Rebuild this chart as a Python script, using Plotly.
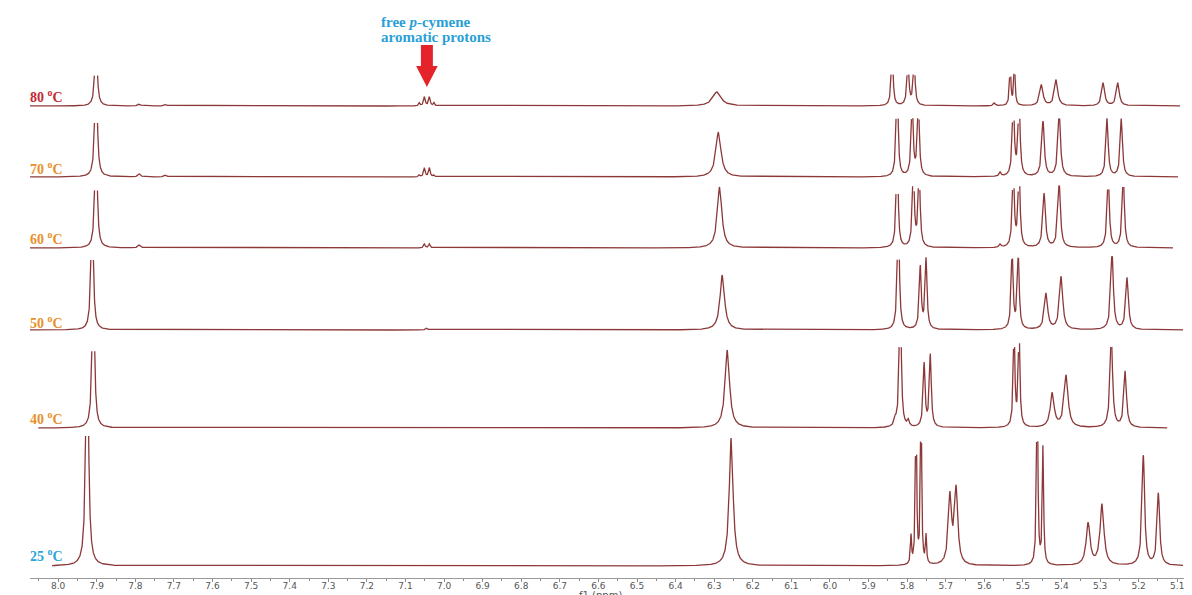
import numpy as np
import plotly.graph_objects as go

# ---------------- data ----------------
temperatures = ["80", "70", "60", "50", "40", "25"]

# peak centres (ppm), heights (a.u.), half-widths (ppm) per spectrum
peaks_80_ppm = [7.902, 7.790, 7.722, 7.064, 7.051, 7.038, 7.026, 6.293, 5.839, 5.798, 5.782, 5.574, 5.533, 5.522, 5.452, 5.414, 5.292, 5.254]
peaks_80_height = [90, 2, 1.5, 3, 9, 9, 3, 14, 70, 45, 45, 3, 45, 45, 21, 26, 23, 23]
peaks_80_width = [0.003, 0.004, 0.004, 0.002, 0.0025, 0.0025, 0.002, 0.013, 0.0025, 0.003, 0.003, 0.003, 0.002, 0.002, 0.005, 0.005, 0.0045, 0.0045]

peaks_70_ppm = [7.902, 7.790, 7.722, 7.064, 7.051, 7.038, 7.026, 6.289, 5.826, 5.787, 5.771, 5.559, 5.525, 5.510, 5.448, 5.406, 5.282, 5.245]
peaks_70_height = [150, 3, 2, 2, 9, 9, 2, 45, 130, 75, 75, 4, 80, 80, 55, 63, 58, 58]
peaks_70_width = [0.003, 0.004, 0.004, 0.002, 0.0025, 0.0025, 0.002, 0.008, 0.0025, 0.003, 0.003, 0.003, 0.003, 0.003, 0.004, 0.004, 0.0035, 0.0035]

peaks_60_ppm = [7.902, 7.790, 7.051, 7.038, 6.286, 5.826, 5.784, 5.769, 5.559, 5.525, 5.510, 5.445, 5.406, 5.279, 5.240]
peaks_60_height = [150, 3, 4, 4, 61, 130, 80, 80, 3, 80, 80, 54, 63, 70, 70]
peaks_60_width = [0.003, 0.004, 0.0025, 0.0025, 0.007, 0.0025, 0.003, 0.003, 0.003, 0.003, 0.003, 0.004, 0.004, 0.0035, 0.0035]

peaks_50_ppm = [7.912, 7.045, 6.279, 5.823, 5.766, 5.751, 5.528, 5.512, 5.440, 5.401, 5.269, 5.230]
peaks_50_height = [160, 2, 55, 140, 62, 70, 76, 72, 36, 53, 76, 52]
peaks_50_width = [0.003, 0.003, 0.007, 0.0028, 0.003, 0.003, 0.003, 0.003, 0.005, 0.005, 0.004, 0.004]

peaks_40_ppm = [7.909, 6.266, 5.831, 5.818, 5.797, 5.756, 5.740, 5.523, 5.510, 5.424, 5.388, 5.271, 5.235]
peaks_40_height = [200, 78, 6, 160, 6, 63, 72, 100, 100, 34, 52, 90, 56]
peaks_40_width = [0.003, 0.007, 0.003, 0.0028, 0.003, 0.003, 0.003, 0.0025, 0.0025, 0.006, 0.006, 0.004, 0.004]

peaks_25_ppm = [7.925, 6.256, 5.790, 5.777, 5.764, 5.751, 5.689, 5.673, 5.463, 5.448, 5.331, 5.295, 5.188, 5.149]
peaks_25_height = [300, 128, 28, 200, 200, 28, 68, 75, 200, 118, 42, 61, 110, 72]
peaks_25_width = [0.0035, 0.006, 0.0017, 0.0017, 0.0017, 0.0017, 0.005, 0.005, 0.002, 0.002, 0.006, 0.006, 0.004, 0.004]

tick_values = [round(8.0 - 0.1 * i, 1) for i in range(30)]
tick_labels = [f"{v:.1f}" for v in tick_values]

peak_table = {
    "80": (peaks_80_ppm, peaks_80_height, peaks_80_width),
    "70": (peaks_70_ppm, peaks_70_height, peaks_70_width),
    "60": (peaks_60_ppm, peaks_60_height, peaks_60_width),
    "50": (peaks_50_ppm, peaks_50_height, peaks_50_width),
    "40": (peaks_40_ppm, peaks_40_height, peaks_40_width),
    "25": (peaks_25_ppm, peaks_25_height, peaks_25_width),
}

# ---------------- layout / style settings ----------------
# y units: value = 578 - (pixel row in the window)
PLOT_TOP = 570
stack_offset = {"80": 472, "70": 401, "60": 330, "50": 248, "40": 150, "25": 12}
clip_height = {"80": 33, "70": 59, "60": 63, "50": 74, "40": 85, "25": 131}
ppm_span = {"80": (8.073, 5.093), "70": (8.073, 5.098), "60": (8.073, 5.111),
            "50": (8.073, 5.085), "40": (8.052, 5.126), "25": (8.016, 5.085)}
label_y = {"80": 482, "70": 410, "60": 340, "50": 256, "40": 160, "25": 23}
label_color = {"80": "#c42a33", "70": "#e8902c", "60": "#e8902c",
               "50": "#e8902c", "40": "#e8902c", "25": "#2ba4d9"}
line_color = "#8c3838"

fig = go.Figure()

for t in temperatures:
    pos, hts, wds = peak_table[t]
    start, end = ppm_span[t]
    x = np.arange(end, start, 0.0004)
    y = np.zeros_like(x)
    for p, h, w in zip(pos, hts, wds):
        y += h / (1.0 + ((x - p) / w) ** 2)
    y = np.where(y > clip_height[t], np.nan, y) + stack_offset[t]
    fig.add_trace(go.Scatter(x=x, y=y, mode="lines",
                             line=dict(color=line_color, width=1.3),
                             connectgaps=False, hoverinfo="skip",
                             showlegend=False))
    fig.add_annotation(text=f"<b>{t} <sup>o</sup>C</b>", xref="paper", yref="y",
                       x=-0.002, y=label_y[t], xanchor="left", yanchor="middle",
                       showarrow=False,
                       font=dict(family="Liberation Serif", size=14, color=label_color[t]))

# annotation for free p-cymene
cym_center = (peaks_80_ppm[4] + peaks_80_ppm[5]) / 2
fig.add_annotation(text="<b>free <i>p</i>-cymene</b>", xref="x", yref="y",
                   x=7.168, y=578 - 22, xanchor="left", yanchor="middle",
                   showarrow=False,
                   font=dict(family="Liberation Serif", size=15, color="#2a9fd6"))
fig.add_annotation(text="<b>aromatic protons</b>", xref="x", yref="y",
                   x=7.168, y=578 - 37, xanchor="left", yanchor="middle",
                   showarrow=False,
                   font=dict(family="Liberation Serif", size=15, color="#2a9fd6"))

# red arrow (shape)
c = cym_center
tip = 578 - 87
head_top = 578 - 66
shaft_top = 578 - 45
sw, hw = 0.0155, 0.028
path = (f"M {c - sw},{shaft_top} L {c + sw},{shaft_top} L {c + sw},{head_top} "
        f"L {c + hw},{head_top} L {c},{tip} L {c - hw},{head_top} L {c - sw},{head_top} Z")
fig.add_shape(type="path", path=path, xref="x", yref="y",
              fillcolor="#e5232a", line=dict(color="#e5232a", width=0))

# axis title (partly cut by the bottom edge, as in the reference)
fig.add_annotation(text="f1 (ppm)", xref="paper", yref="paper", x=0.494, y=0,
                   xanchor="center", yanchor="top", yshift=-10, showarrow=False,
                   font=dict(family="DejaVu Sans", size=10, color="#555555"))

fig.update_layout(
    width=1184, height=587,
    margin=dict(l=22, r=7, t=0, b=17),
    paper_bgcolor="white", plot_bgcolor="white",
    xaxis=dict(range=[8.073, 5.08], tickvals=tick_values, ticktext=tick_labels,
               ticks="outside", ticklen=3, tickcolor="#8a8a8a",
               ticklabelstandoff=-4,
               showline=True, linecolor="#9a9a9a", linewidth=1,
               showgrid=False, zeroline=False,
               tickfont=dict(family="DejaVu Sans", size=9, color="#555555"),
               minor=dict(dtick=0.05, tick0=8.0, ticks="outside", ticklen=2,
                          tickcolor="#8a8a8a", showgrid=False)),
    yaxis=dict(range=[0, PLOT_TOP], visible=False, fixedrange=True),
)

fig.write_html("out.html")
